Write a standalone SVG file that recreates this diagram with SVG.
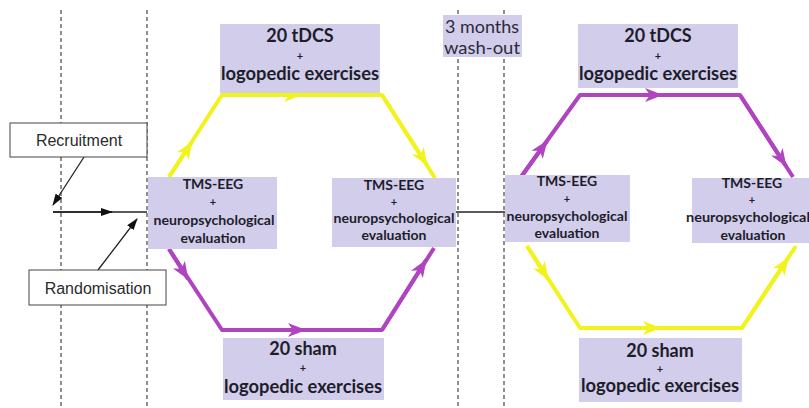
<svg xmlns="http://www.w3.org/2000/svg" width="809" height="408" viewBox="0 0 809 408">
<style>
.bg{fill:#ffffff}
.dash{stroke:#555;stroke-width:1.3;stroke-dasharray:4,3;fill:none}
.box{fill:#d2cdea}
.wbox{fill:#ffffff;stroke:#444;stroke-width:1}
.t{font-family:Lato,"Open Sans","Liberation Sans",sans-serif;font-weight:bold;fill:#1d1d2b;text-anchor:middle}
.big{font-size:18px}
.mid{font-size:14px}
.plus{font-size:11px}
.reg{font-family:Lato,"Open Sans","Liberation Sans",sans-serif;font-weight:normal;font-size:17px;fill:#2a2a3a;text-anchor:middle}
.lab{font-family:"Liberation Sans",Arial,sans-serif;font-size:16px;fill:#2b2b2b;text-anchor:middle}
.blk{stroke:#222;stroke-width:1.3;fill:none}
.yel{stroke:#f2f21c;stroke-width:4;fill:none;stroke-linejoin:round}
.pur{stroke:#b044c0;stroke-width:4;fill:none;stroke-linejoin:round}
</style>
<defs>
<marker id="ay" markerUnits="userSpaceOnUse" viewBox="0 0 18 14" markerWidth="18" markerHeight="14" refX="17" refY="7" orient="auto"><path d="M0,0 L18,7 L0,14 L5,7 z" fill="#f2f21c"/></marker>
<marker id="ap" markerUnits="userSpaceOnUse" viewBox="0 0 18 14" markerWidth="18" markerHeight="14" refX="17" refY="7" orient="auto"><path d="M0,0 L18,7 L0,14 L5,7 z" fill="#b044c0"/></marker>
<marker id="ab" markerUnits="userSpaceOnUse" viewBox="0 0 12 8" markerWidth="12" markerHeight="8" refX="11" refY="4" orient="auto"><path d="M0,0 L12,4 L0,8 z" fill="#111"/></marker>
</defs>
<rect class="bg" x="0" y="0" width="809" height="408"/>
<g id="timeline">
<line class="dash" x1="61" y1="10" x2="61" y2="408"/>
<line class="dash" x1="147" y1="10" x2="147" y2="408"/>
<line class="dash" x1="458" y1="10" x2="458" y2="408"/>
<line class="dash" x1="504" y1="10" x2="504" y2="408"/>
</g>
<g id="connectors">
<line class="blk" x1="53" y1="212" x2="147" y2="212"/>
<line class="blk" x1="53" y1="212" x2="112" y2="212" marker-end="url(#ab)"/>
<line class="blk" x1="84" y1="157" x2="53" y2="205" marker-end="url(#ab)"/>
<line class="blk" x1="98" y1="270" x2="137" y2="219" marker-end="url(#ab)"/>
<line class="blk" x1="456" y1="212" x2="505" y2="212"/>
<polyline class="yel" points="169,177 222,95 382,95 435,178"/>
<line class="yel" x1="169" y1="177" x2="192" y2="142" marker-end="url(#ay)"/>
<line class="yel" x1="222" y1="95" x2="301" y2="95" marker-end="url(#ay)"/>
<line class="yel" x1="382" y1="95" x2="427" y2="165" marker-end="url(#ay)"/>
<polyline class="pur" points="169,249 222,330 382,330 434,248"/>
<line class="pur" x1="169" y1="249" x2="188" y2="279" marker-end="url(#ap)"/>
<line class="pur" x1="222" y1="330" x2="305" y2="330" marker-end="url(#ap)"/>
<line class="pur" x1="382" y1="330" x2="426" y2="260" marker-end="url(#ap)"/>
<polyline class="pur" points="521,177 580,95 740,95 793,177"/>
<line class="pur" x1="521" y1="177" x2="547" y2="141" marker-end="url(#ap)"/>
<line class="pur" x1="580" y1="95" x2="662" y2="95" marker-end="url(#ap)"/>
<line class="pur" x1="740" y1="95" x2="786" y2="166" marker-end="url(#ap)"/>
<polyline class="yel" points="527,246 580,328 742,328 796,246"/>
<line class="yel" x1="527" y1="246" x2="548" y2="279" marker-end="url(#ay)"/>
<line class="yel" x1="580" y1="328" x2="660" y2="328" marker-end="url(#ay)"/>
<line class="yel" x1="742" y1="328" x2="788" y2="258" marker-end="url(#ay)"/>
</g>
<g id="recruitment">
<rect class="wbox" x="10" y="123" width="137" height="34"/>
<text class="lab" x="79" y="146">Recruitment</text>
</g>
<g id="randomisation">
<rect class="wbox" x="29" y="270" width="137" height="35"/>
<text class="lab" x="98" y="294">Randomisation</text>
</g>
<g id="tdcs1">
<rect class="box" x="220" y="24" width="160" height="69"/>
<text class="t big" x="300" y="42">20 tDCS</text>
<text class="t plus" x="300" y="60">+</text>
<text class="t big" x="300" y="80" textLength="158" lengthAdjust="spacingAndGlyphs">logopedic exercises</text>
</g>
<g id="sham1">
<rect class="box" x="223" y="338" width="161" height="62"/>
<text class="t big" x="303" y="355">20 sham</text>
<text class="t plus" x="303" y="372">+</text>
<text class="t big" x="303" y="393" textLength="158" lengthAdjust="spacingAndGlyphs">logopedic exercises</text>
</g>
<g id="eval1">
<rect class="box" x="148" y="177" width="129" height="72"/>
<text class="t mid" x="213" y="189">TMS-EEG</text>
<text class="t plus" x="213" y="206">+</text>
<text class="t mid" x="214" y="225" textLength="121" lengthAdjust="spacingAndGlyphs">neuropsychological</text>
<text class="t mid" x="213" y="243">evaluation</text>
</g>
<g id="eval2">
<rect class="box" x="332" y="178" width="124" height="69"/>
<text class="t mid" x="394" y="190">TMS-EEG</text>
<text class="t plus" x="394" y="206">+</text>
<text class="t mid" x="394" y="223" textLength="121" lengthAdjust="spacingAndGlyphs">neuropsychological</text>
<text class="t mid" x="394" y="240">evaluation</text>
</g>
<g id="washout">
<rect class="box" x="443" y="15" width="79" height="42"/>
<text class="reg" x="482" y="33" textLength="74" lengthAdjust="spacingAndGlyphs">3 months</text>
<text class="reg" x="482" y="54" textLength="76" lengthAdjust="spacingAndGlyphs">wash-out</text>
</g>
<g id="tdcs2">
<rect class="box" x="578" y="24" width="160" height="64"/>
<text class="t big" x="658" y="42">20 tDCS</text>
<text class="t plus" x="658" y="60">+</text>
<text class="t big" x="658" y="80" textLength="158" lengthAdjust="spacingAndGlyphs">logopedic exercises</text>
</g>
<g id="sham2">
<rect class="box" x="579" y="338" width="163" height="64"/>
<text class="t big" x="660" y="357">20 sham</text>
<text class="t plus" x="660" y="373">+</text>
<text class="t big" x="660" y="392" textLength="158" lengthAdjust="spacingAndGlyphs">logopedic exercises</text>
</g>
<g id="eval3">
<rect class="box" x="505" y="175" width="125" height="67"/>
<text class="t mid" x="567" y="186">TMS-EEG</text>
<text class="t plus" x="567" y="203">+</text>
<text class="t mid" x="567" y="221" textLength="121" lengthAdjust="spacingAndGlyphs">neuropsychological</text>
<text class="t mid" x="567" y="238">evaluation</text>
</g>
<g id="eval4">
<rect class="box" x="692" y="178" width="117" height="65"/>
<text class="t mid" x="752" y="188">TMS-EEG</text>
<text class="t plus" x="752" y="204">+</text>
<text class="t mid" x="748" y="222" textLength="124" lengthAdjust="spacingAndGlyphs">neuropsychological</text>
<text class="t mid" x="753" y="240">evaluation</text>
</g>
</svg>
